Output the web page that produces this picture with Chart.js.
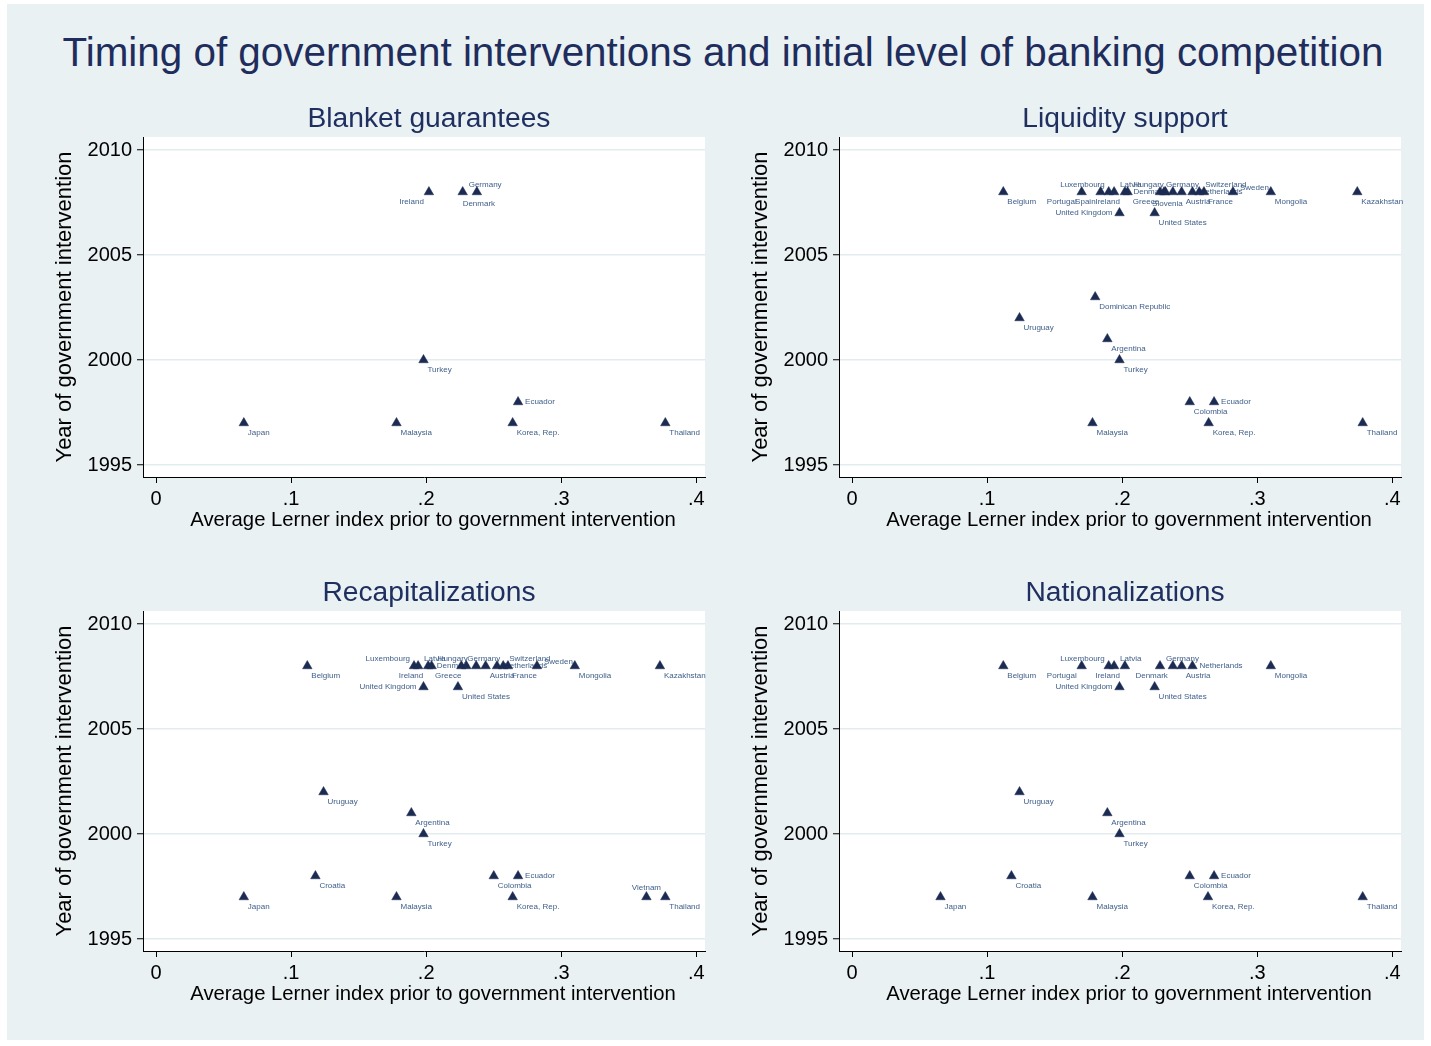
<!DOCTYPE html>
<html>
<head>
<meta charset="utf-8">
<script src="https://cdn.jsdelivr.net/npm/chart.js@4.4.1/dist/chart.umd.min.js"></script>
<style>
  html, body { margin: 0; padding: 0; background: #ffffff; }
  body { width: 1431px; height: 1046px; position: relative; overflow: hidden;
         font-family: "Liberation Sans", Arial, Helvetica, sans-serif; }
  #frame { position: absolute; left: 7px; top: 4px; width: 1417px; height: 1036px; background: #e9f1f3; }
  #mainTitle { position: absolute; left: 0; top: 28px; width: 1446px; text-align: center;
               font-size: 40.4px; line-height: 48px; color: #1f2d5c; white-space: nowrap; }
  canvas.panel { position: absolute; }
</style>
</head>
<body>
<div id="frame"></div>
<div id="mainTitle">Timing of government interventions and initial level of banking competition</div>
<canvas id="pBlanket" class="panel" width="705" height="455" style="left:7px;top:95px"></canvas>
<canvas id="pLiquidity" class="panel" width="705" height="455" style="left:703px;top:95px"></canvas>
<canvas id="pRecap" class="panel" width="705" height="455" style="left:7px;top:569px"></canvas>
<canvas id="pNational" class="panel" width="705" height="455" style="left:703px;top:569px"></canvas>
<script>
// ---- axis ticks ----
const xTickValues = [0, 0.1, 0.2, 0.3, 0.4];
const xTickLabels = ['0', '.1', '.2', '.3', '.4'];
const yTickValues = [1995, 2000, 2005, 2010];
const xAxisTitle = 'Average Lerner index prior to government intervention';
const yAxisTitle = 'Year of government intervention';

// ---- Blanket guarantees ----
const blanketCountries = ['Ireland', 'Germany', 'Denmark', 'Turkey', 'Ecuador', 'Japan', 'Malaysia', 'Korea, Rep.', 'Thailand'];
const blanketLerner    = [0.202, 0.227, 0.2375, 0.198, 0.268, 0.065, 0.178, 0.264, 0.377];
const blanketYear      = [2008, 2008, 2008, 2000, 1998, 1997, 1997, 1997, 1997];
const blanketLabelPos  = [7, 1, 6, 4, 3, 4, 4, 4, 4];

// ---- Liquidity support ----
const liquidityCountries = ['Belgium', 'Portugal', 'Spain', 'Luxembourg', 'Latvia', 'Ireland', 'Hungary', 'Germany',
  'Greece', 'Slovenia', 'Denmark', 'Austria', 'Netherlands', 'Switzerland', 'France', 'Sweden', 'Mongolia', 'Kazakhstan',
  'United Kingdom', 'United States', 'Dominican Republic', 'Uruguay', 'Argentina', 'Turkey', 'Colombia', 'Ecuador',
  'Malaysia', 'Korea, Rep.', 'Thailand'];
const liquidityLerner = [0.112, 0.170, 0.184, 0.190, 0.194, 0.202, 0.204, 0.228,
  0.231, 0.232, 0.2375, 0.244, 0.252, 0.257, 0.2605, 0.282, 0.310, 0.374,
  0.198, 0.224, 0.180, 0.124, 0.189, 0.198, 0.250, 0.268,
  0.178, 0.264, 0.378];
const liquidityYear = [2008, 2008, 2008, 2008, 2008, 2008, 2008, 2008,
  2008, 2008, 2008, 2008, 2008, 2008, 2008, 2008, 2008, 2008,
  2007, 2007, 2003, 2002, 2001, 2000, 1998, 1998,
  1997, 1997, 1997];
const liquidityLabelPos = [4, 7, 7, 11, 1, 7, 1, 1,
  7, 6, 9, 4, 3, 1, 4, 2, 4, 4,
  9, 4, 4, 4, 4, 4, 4, 3,
  4, 4, 4];

// ---- Recapitalizations ----
const recapCountries = ['Belgium', 'Luxembourg', 'Latvia', 'Ireland', 'Hungary', 'Germany', 'Greece', 'Denmark',
  'Austria', 'Netherlands', 'Switzerland', 'France', 'Sweden', 'Mongolia', 'Kazakhstan',
  'United Kingdom', 'United States', 'Uruguay', 'Argentina', 'Turkey', 'Croatia', 'Colombia', 'Ecuador',
  'Japan', 'Malaysia', 'Korea, Rep.', 'Vietnam', 'Thailand'];
const recapLerner = [0.112, 0.191, 0.194, 0.2015, 0.204, 0.226, 0.2297, 0.237,
  0.244, 0.2524, 0.257, 0.2605, 0.282, 0.310, 0.373,
  0.198, 0.2235, 0.124, 0.189, 0.198, 0.118, 0.250, 0.268,
  0.065, 0.178, 0.264, 0.363, 0.377];
const recapYear = [2008, 2008, 2008, 2008, 2008, 2008, 2008, 2008,
  2008, 2008, 2008, 2008, 2008, 2008, 2008,
  2007, 2007, 2002, 2001, 2000, 1998, 1998, 1998,
  1997, 1997, 1997, 1997, 1997];
const recapLabelPos = [4, 11, 1, 7, 1, 1, 7, 9,
  4, 3, 1, 4, 2, 4, 4,
  9, 4, 4, 4, 4, 4, 4, 3,
  4, 4, 4, 12, 4];

// ---- Nationalizations ----
const nationalCountries = ['Belgium', 'Portugal', 'Luxembourg', 'Latvia', 'Ireland', 'Germany', 'Denmark', 'Austria',
  'Netherlands', 'Mongolia', 'United Kingdom', 'United States', 'Uruguay', 'Argentina', 'Turkey', 'Croatia',
  'Colombia', 'Ecuador', 'Japan', 'Malaysia', 'Korea, Rep.', 'Thailand'];
const nationalLerner = [0.112, 0.170, 0.190, 0.194, 0.202, 0.228, 0.2375, 0.244,
  0.252, 0.310, 0.198, 0.224, 0.124, 0.189, 0.198, 0.118,
  0.250, 0.268, 0.0655, 0.178, 0.2635, 0.378];
const nationalYear = [2008, 2008, 2008, 2008, 2008, 2008, 2008, 2008,
  2008, 2008, 2007, 2007, 2002, 2001, 2000, 1998,
  1998, 1998, 1997, 1997, 1997, 1997];
const nationalLabelPos = [4, 7, 11, 1, 7, 1, 7, 4,
  3, 4, 9, 4, 4, 4, 4, 4,
  4, 3, 4, 4, 4, 4];

// ---- shared look ----
const FONT = '"Liberation Sans", Arial, Helvetica, sans-serif';
Chart.defaults.font.family = FONT;
const NAVY = '#1c2b52';
const LABEL_COLOR = '#40608a';
const TITLE_COLOR = '#1f2f60';
const GRID_COLOR = '#e2ebee';

// Scale ranges leave Stata-like margins around 0–.4 and 1995–2010
const X_MIN = -13 / 1351, X_MAX = X_MIN + 562 / 1351;
const Y_MIN = 1995 - 12 / 21, Y_MAX = 2010 + 13 / 21;

// Clock-position placement of marker labels: [align, dx, dy]
const clockPlacement = {
  1: ['left', 6, -7], 2: ['left', 7, -4], 3: ['left', 7, 0], 4: ['left', 4, 10],
  6: ['center', 2, 12], 7: ['right', -5, 10], 9: ['right', -7, 0],
  11: ['right', -4, -7], 12: ['center', 0, -9]
};

const plotBackground = {
  id: 'plotBackground',
  beforeDraw(chart) {
    const { ctx, chartArea: a } = chart;
    ctx.save();
    ctx.fillStyle = '#ffffff';
    ctx.fillRect(a.left, a.top, a.right - a.left, a.bottom - a.top);
    ctx.restore();
  }
};

// Panel title above the plot region and x-axis title below it
const panelTexts = {
  id: 'panelTexts',
  afterDraw(chart, args, opts) {
    const { ctx, chartArea: a } = chart;
    const cx = (a.left + a.right) / 2;
    ctx.save();
    ctx.textAlign = 'center';
    ctx.textBaseline = 'middle';
    ctx.fillStyle = TITLE_COLOR;
    ctx.font = '28.2px ' + FONT;
    ctx.fillText(opts.title, cx + 5, a.top - 18);
    ctx.fillStyle = '#000';
    ctx.font = '20.3px ' + FONT;
    ctx.fillText(xAxisTitle, cx + 9, a.bottom + 43);
    ctx.restore();
  }
};

const markerLabels = {
  id: 'markerLabels',
  beforeDatasetsDraw(chart, args, opts) {
    const ctx = chart.ctx;
    const meta = chart.getDatasetMeta(0);
    ctx.save();
    ctx.font = '8px ' + FONT;
    ctx.fillStyle = LABEL_COLOR;
    ctx.textBaseline = 'middle';
    meta.data.forEach((pt, i) => {
      const [align, dx, dy] = clockPlacement[opts.clocks[i]];
      ctx.textAlign = align;
      ctx.fillText(opts.names[i], pt.x + dx, pt.y + dy);
    });
    ctx.restore();
  }
};

function makePanel(canvasId, title, names, lerner, years, clocks) {
  const points = lerner.map((v, i) => ({ x: v, y: years[i] }));
  return new Chart(document.getElementById(canvasId), {
    type: 'scatter',
    data: {
      datasets: [{
        data: points,
        pointStyle: 'triangle',
        pointRadius: 5.5,
        pointHoverRadius: 5.5,
        backgroundColor: NAVY,
        borderColor: NAVY,
        borderWidth: 0.5
      }]
    },
    options: {
      responsive: false,
      animation: false,
      devicePixelRatio: 1,
      events: [],
      layout: { padding: { left: 0, right: 7, top: 42, bottom: 0 } },
      plugins: {
        legend: { display: false },
        tooltip: { enabled: false },
        title: { display: false },
        panelTexts: { title: title },
        markerLabels: { names: names, clocks: clocks }
      },
      scales: {
        x: {
          type: 'linear', min: X_MIN, max: X_MAX,
          afterBuildTicks: s => { s.ticks = xTickValues.map(v => ({ value: v })); },
          afterFit: s => { s.height = 73; },
          ticks: {
            callback: (v, i) => xTickLabels[i],
            color: '#000', font: { size: 20 }, padding: 4, maxRotation: 0, autoSkip: false
          },
          grid: { drawOnChartArea: false, drawTicks: true, tickLength: 6, tickColor: '#000', tickWidth: 1 },
          border: { display: true, color: '#000', width: 1 },
          title: { display: false }
        },
        y: {
          type: 'linear', min: Y_MIN, max: Y_MAX,
          afterBuildTicks: s => { s.ticks = yTickValues.map(v => ({ value: v })); },
          afterFit: s => { s.width = 136; },
          ticks: { callback: v => String(v), color: '#000', font: { size: 20 }, padding: 5, autoSkip: false },
          grid: { color: GRID_COLOR, lineWidth: 1.5, drawTicks: true, tickLength: 6, tickColor: '#000', tickWidth: 1 },
          border: { display: true, color: '#000', width: 1 },
          title: {
            display: true, text: yAxisTitle,
            color: '#000', font: { size: 22 }, padding: { top: 44.8, bottom: 0 }
          }
        }
      }
    },
    plugins: [plotBackground, panelTexts, markerLabels]
  });
}

makePanel('pBlanket', 'Blanket guarantees', blanketCountries, blanketLerner, blanketYear, blanketLabelPos);
makePanel('pLiquidity', 'Liquidity support', liquidityCountries, liquidityLerner, liquidityYear, liquidityLabelPos);
makePanel('pRecap', 'Recapitalizations', recapCountries, recapLerner, recapYear, recapLabelPos);
makePanel('pNational', 'Nationalizations', nationalCountries, nationalLerner, nationalYear, nationalLabelPos);
</script>
</body>
</html>
